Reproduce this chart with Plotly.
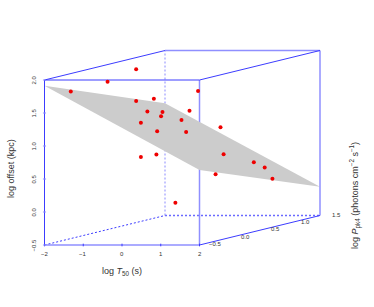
import plotly.graph_objects as go

# Data (log T50, log Ppk, log offset)
log_t50 = [-1.19,-1.15,-1.71,-1.19,-1.51,-0.90,-0.51,0.23,-0.29,-0.02,0.10,0.13,-0.29,0.11,-0.37,-0.59,0.21,0.29,1.07,1.35,0.86,1.55,0.60]
log_ppk = [0.5,0.0,-0.25,0.5,1.0,0.5,0.5,0.0,0.0,0.5,0.5,0.0,0.0,0.0,1.0,1.0,1.0,1.0,1.0,1.0,0.5,1.0,0.0]
log_off = [1.94,1.86,1.77,1.46,1.38,1.30,1.29,1.34,1.24,1.17,0.99,1.11,0.72,0.76,1.50,1.20,0.95,0.54,0.42,0.34,0.35,0.17,0.03]

# Fitted plane corners
plane_t50 = [-2, -2, 2, 2]
plane_ppk = [-0.5, 1.5, 1.5, -0.5]
plane_off = [1.914, 1.20, -0.064, 0.636]

x_ticks = [-2, -1, 0, 1, 2]
y_ticks = [-0.5, 0.0, 0.5, 1.0, 1.5]
z_ticks = [-0.5, 0.0, 0.5, 1.0, 1.5, 2.0]
X0, X1, Y0, Y1, Z0, Z1 = -2, 2, -0.5, 1.5, -0.5, 2.0

# scatterplot3d-style oblique projection, in axis units of the front face
DX = 60.25 / 38.75
DZ = 14.75 / 66.0
def proj(x, y, z):
    return x + (y - Y0) * DX, z + (y - Y0) * DZ

BLUE = "#3c3cff"
LIGHT = "#8f8fff"
fig = go.Figure()

def segs(pairs, color=BLUE, width=1.0, dash="solid"):
    xs, ys = [], []
    for a, b in pairs:
        p, q = proj(*a), proj(*b)
        xs += [p[0], q[0], None]
        ys += [p[1], q[1], None]
    fig.add_trace(go.Scatter(x=xs, y=ys, mode="lines",
                             line=dict(color=color, width=width, dash=dash),
                             hoverinfo="skip", showlegend=False))

def edge_shape(a, b, color=BLUE, width=1.0, dash="solid"):
    p, q = proj(*a), proj(*b)
    fig.add_shape(type="line", xref="x", yref="y", x0=p[0], y0=p[1], x1=q[0], y1=q[1],
                  line=dict(color=color, width=width, dash=dash), layer="below")

# hidden (back) edges
segs([((X0, Y0, Z0), (X0, Y1, Z0))], dash="2px,2px")
segs([((X0, Y1, Z0), (X0, Y1, Z1))], color="#8a8aff", dash="2px,2px")
edge_shape((X0, Y1, Z0), (X1, Y1, Z0), color="#6a6aff", width=1.5, dash="2px,2px")

# front right edge sits under the plane
edge_shape((X1, Y0, Z0), (X1, Y0, Z1), color=LIGHT, width=1.5)

# plane
px, pz = zip(*[proj(a, b, c) for a, b, c in zip(plane_t50, plane_ppk, plane_off)])
fig.add_trace(go.Scatter(x=list(px) + [px[0]], y=list(pz) + [pz[0]], mode="lines",
                         fill="toself", fillcolor="#cccccc", line=dict(width=0),
                         hoverinfo="skip", showlegend=False))

# visible edges
segs([((X0, Y0, Z0), (X1, Y0, Z0)), ((X0, Y1, Z1), (X1, Y1, Z1)), ((X1, Y1, Z0), (X1, Y1, Z1))],
     color=LIGHT, width=1.5)
segs([((X0, Y0, Z1), (X1, Y0, Z1)), ((X0, Y0, Z0), (X0, Y0, Z1)),
      ((X0, Y0, Z1), (X0, Y1, Z1)), ((X1, Y0, Z1), (X1, Y1, Z1)), ((X1, Y0, Z0), (X1, Y1, Z0))])

# ticks
segs([((t, Y0, Z0 - 0.02), (t, Y0, Z0 + 0.02)) for t in x_ticks])
segs([((X0 - 0.04, Y0, t), (X0 + 0.04, Y0, t)) for t in z_ticks], color=LIGHT)

# points
mx, mz = zip(*[proj(a, b, c) for a, b, c in zip(log_t50, log_ppk, log_off)])
fig.add_trace(go.Scatter(x=mx, y=mz, mode="markers",
                         marker=dict(color="#ee0000", size=4, line=dict(width=0)),
                         hoverinfo="skip", showlegend=False))

def note(x, y, text, size=6, angle=0, xshift=0, yshift=0, color="#333333"):
    fig.add_annotation(x=x, y=y, xref="x", yref="y", text=text, showarrow=False,
                       font=dict(family="Liberation Sans", size=size, color=color),
                       textangle=angle, xshift=xshift, yshift=yshift,
                       xanchor="center", yanchor="middle")

for t in x_ticks:
    note(t, Z0, str(t).replace("-", "\u2212"), yshift=-9)
for t in z_ticks:
    note(X0, t, f"{t:.1f}".replace("-", "\u2212"), angle=-90, xshift=-11)
for t in y_ticks:
    p = proj(X1, t, Z0)
    note(p[0], p[1], f"{t:.1f}".replace("-", "\u2212"), xshift=16, yshift=1)

note(0, -0.9, "log <i>T</i><sub>50</sub> (s)", size=9)
note(-2, 0.65, "log offset (kpc)", size=9, angle=-90, xshift=-33.5)
note(6, 0.25, "log <i>P</i><sub>pk4</sub> (photons cm<sup>\u22122</sup> s<sup>\u22121</sup>)",
     size=9, angle=-90)

fig.update_layout(
    width=374, height=307, margin=dict(l=0, r=0, t=0, b=0),
    paper_bgcolor="white", plot_bgcolor="white", showlegend=False,
    xaxis=dict(visible=False, range=[-2 - 44.5 / 38.75, -2 + (374 - 44.5) / 38.75], fixedrange=True),
    yaxis=dict(visible=False, range=[-0.5 - 62 / 66, -0.5 + 245 / 66], fixedrange=True),
)
fig.write_html("out.html", config=dict(displayModeBar=False),
               post_script="document.body.style.margin='0';document.body.style.overflow='hidden';")
